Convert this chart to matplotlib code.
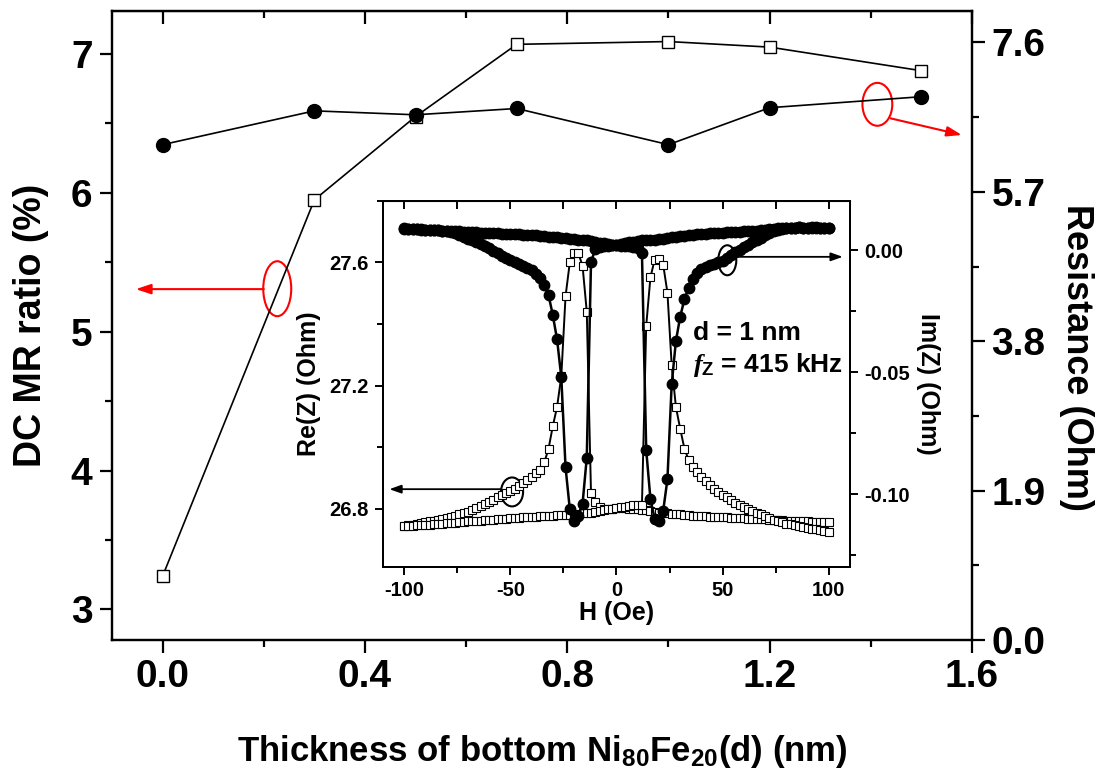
import matplotlib.pyplot as plt
from matplotlib.patches import Ellipse
from matplotlib.ticker import MultipleLocator, FormatStrFormatter

plt.rcParams['font.family'] = ['Liberation Sans', 'DejaVu Sans']
plt.rcParams['font.weight'] = 'bold'
plt.rcParams['axes.unicode_minus'] = False
plt.rcParams['mathtext.fontset'] = 'custom'
plt.rcParams['mathtext.rm'] = 'Liberation Sans:bold'
plt.rcParams['mathtext.bf'] = 'Liberation Sans:bold'
plt.rcParams['mathtext.it'] = 'Liberation Serif:italic'

# main panel: DC MR ratio and resistance vs bottom NiFe thickness
thickness = [0.0, 0.3, 0.5, 0.7, 1.0, 1.2, 1.5]
mr_ratio = [3.24, 5.95, 6.55, 7.07, 7.09, 7.05, 6.88]
resistance = [6.30, 6.73, 6.68, 6.76, 6.30, 6.77, 6.91]

# inset: GMI loop for d = 1 nm, field swept in 2 Oe steps
h_field = list(range(-100, 101, 2))

re_up = [26.744, 26.746, 26.748, 26.750, 26.753, 26.756, 26.758, 26.761, 26.764, 26.767,
         26.770, 26.774, 26.777, 26.781, 26.785, 26.790, 26.796, 26.802, 26.808, 26.815,
         26.822, 26.829, 26.836, 26.843, 26.850, 26.857, 26.864, 26.873, 26.883, 26.893,
         26.903, 26.914, 26.925, 26.950, 26.995, 27.068, 27.130, 27.230, 27.490, 27.600,
         27.630, 27.630, 27.590, 27.440, 26.850, 26.820, 26.805, 26.800, 26.798, 26.800,
         26.802, 26.803, 26.802, 26.800, 26.798, 26.797, 26.796, 26.794, 26.791, 26.789,
         26.787, 26.785, 26.784, 26.783, 26.782, 26.781, 26.780, 26.778, 26.777, 26.776,
         26.776, 26.775, 26.774, 26.773, 26.772, 26.772, 26.771, 26.770, 26.770, 26.769,
         26.768, 26.767, 26.767, 26.766, 26.766, 26.765, 26.764, 26.764, 26.763, 26.762,
         26.761, 26.760, 26.760, 26.759, 26.758, 26.758, 26.757, 26.757, 26.756, 26.756,
         26.755]

re_down = [26.742, 26.743, 26.744, 26.745, 26.746, 26.747, 26.748, 26.749, 26.750, 26.751,
           26.752, 26.753, 26.754, 26.755, 26.757, 26.758, 26.759, 26.760, 26.761, 26.762,
           26.763, 26.764, 26.765, 26.766, 26.767, 26.768, 26.769, 26.770, 26.771, 26.772,
           26.773, 26.774, 26.775, 26.776, 26.777, 26.777, 26.778, 26.778, 26.779, 26.780,
           26.781, 26.783, 26.784, 26.786, 26.787, 26.789, 26.791, 26.794, 26.797, 26.800,
           26.802, 26.804, 26.806, 26.808, 26.810, 26.811, 26.812, 27.394, 27.552, 27.609,
           27.611, 27.593, 27.502, 27.267, 27.130, 27.060, 26.995, 26.958, 26.935, 26.918,
           26.903, 26.888, 26.875, 26.864, 26.855, 26.845, 26.836, 26.827, 26.819, 26.811,
           26.804, 26.798, 26.792, 26.787, 26.781, 26.775, 26.769, 26.764, 26.760, 26.756,
           26.751, 26.749, 26.746, 26.744, 26.741, 26.738, 26.735, 26.732, 26.729, 26.727,
           26.724]

im_up = [0.0090, 0.0089, 0.0088, 0.0087, 0.0086, 0.0085, 0.0084, 0.0083, 0.0082, 0.0080,
         0.0078, 0.0075, 0.0070, 0.0063, 0.0055, 0.0047, 0.0040, 0.0033, 0.0025, 0.0017,
         0.0009, -0.0004, -0.0013, -0.0022, -0.0031, -0.0040, -0.0049, -0.0058, -0.0066, -0.0074,
         -0.0082, -0.0096, -0.0115, -0.0143, -0.0184, -0.0266, -0.0365, -0.0520, -0.0890, -0.1060,
         -0.1110, -0.1090, -0.1040, -0.0850, -0.0048, 0.0004, 0.0012, 0.0016, 0.0019, 0.0021,
         0.0023, 0.0026, 0.0029, 0.0032, 0.0035, 0.0038, 0.0040, 0.0041, 0.0042, 0.0044,
         0.0046, 0.0048, 0.0050, 0.0053, 0.0056, 0.0058, 0.0060, 0.0062, 0.0064, 0.0066,
         0.0067, 0.0068, 0.0069, 0.0070, 0.0071, 0.0072, 0.0073, 0.0074, 0.0075, 0.0076,
         0.0077, 0.0078, 0.0079, 0.0080, 0.0082, 0.0084, 0.0086, 0.0088, 0.0090, 0.0091,
         0.0092, 0.0093, 0.0093, 0.0094, 0.0093, 0.0093, 0.0094, 0.0093, 0.0093, 0.0093,
         0.0093]

im_down = [0.0089, 0.0088, 0.0087, 0.0086, 0.0085, 0.0084, 0.0083, 0.0082, 0.0081, 0.0080,
           0.0079, 0.0079, 0.0078, 0.0077, 0.0076, 0.0075, 0.0074, 0.0073, 0.0072, 0.0072,
           0.0071, 0.0070, 0.0069, 0.0068, 0.0068, 0.0067, 0.0066, 0.0065, 0.0064, 0.0063,
           0.0062, 0.0061, 0.0060, 0.0058, 0.0056, 0.0054, 0.0053, 0.0051, 0.0050, 0.0048,
           0.0046, 0.0044, 0.0042, 0.0040, 0.0038, 0.0035, 0.0031, 0.0028, 0.0025, 0.0022,
           0.0020, 0.0019, 0.0018, 0.0016, 0.0013, 0.0008, -0.0012, -0.0818, -0.1020, -0.1102,
           -0.1110, -0.1068, -0.0939, -0.0550, -0.0372, -0.0273, -0.0201, -0.0153, -0.0119, -0.0092,
           -0.0075, -0.0067, -0.0062, -0.0056, -0.0050, -0.0043, -0.0030, -0.0018, -0.0008, 0.0002,
           0.0012, 0.0022, 0.0032, 0.0042, 0.0052, 0.0062, 0.0070, 0.0077, 0.0083, 0.0088,
           0.0091, 0.0093, 0.0093, 0.0094, 0.0093, 0.0093, 0.0093, 0.0094, 0.0093, 0.0093,
           0.0093]


def style_axis(a, size, major_len, minor_len, width, pad=4):
    a.tick_params(which='major', length=major_len, width=width, labelsize=size, pad=pad)
    a.tick_params(which='minor', length=minor_len, width=width)
    for s in a.spines.values():
        s.set_linewidth(width)


fig = plt.figure(figsize=(11.06, 7.75), dpi=100)

# ---- main axes ----
ax = fig.add_axes([0.1013, 0.1742, 0.7775, 0.8116])
ax.plot(thickness, mr_ratio, '-s', color='black', mfc='white', mec='black',
        ms=8, mew=1.0, lw=1.2)
ax.set_xlim(-0.1, 1.6)
ax.set_ylim(2.78, 7.31)
ax.set_xticks([0.0, 0.4, 0.8, 1.2, 1.6])
ax.xaxis.set_minor_locator(MultipleLocator(0.2))
ax.xaxis.set_major_formatter(FormatStrFormatter('%.1f'))
ax.set_yticks([3, 4, 5, 6, 7])
ax.yaxis.set_minor_locator(MultipleLocator(0.5))
style_axis(ax, 28, 9, 5, 1.6, pad=5)
ax.set_xlabel('Thickness of bottom Ni$_{80}$Fe$_{20}$(d) (nm)', fontsize=25,
              fontweight='bold', labelpad=27)
ax.set_ylabel('DC MR ratio (%)', fontsize=27, fontweight='bold', labelpad=16)

top = ax.secondary_xaxis('top')
top.set_xticks([0.0, 0.4, 0.8, 1.2, 1.6])
top.xaxis.set_minor_locator(MultipleLocator(0.2))
top.tick_params(which='both', direction='in', labeltop=False)
top.tick_params(which='major', length=9, width=1.6)
top.tick_params(which='minor', length=5, width=1.6)

ax2 = ax.twinx()
ax2.plot(thickness, resistance, '-o', color='black', ms=10, lw=1.2)
ax2.set_ylim(0, 8.0)
ax2.set_yticks([0.0, 1.9, 3.8, 5.7, 7.6])
ax2.yaxis.set_minor_locator(MultipleLocator(0.95))
ax2.yaxis.set_major_formatter(FormatStrFormatter('%.1f'))
style_axis(ax2, 28, 9, 5, 1.6, pad=5)
ax2.set_ylabel('Resistance (Ohm)', fontsize=26, fontweight='bold', rotation=270)
ax2.yaxis.set_label_coords(1.142, 0.45)

# red markers telling which axis belongs to which curve
ax.add_patch(Ellipse((0.2266, 5.31), 0.0553, 0.396, fill=False, ec='red', lw=1.5))
ax.annotate('', xy=(-0.053, 5.307), xytext=(0.200, 5.307),
            arrowprops=dict(arrowstyle='-|>,head_length=0.9,head_width=0.3',
                            color='red', lw=1.5, shrinkA=0, shrinkB=0))
ax.add_patch(Ellipse((1.413, 6.638), 0.059, 0.309, fill=False, ec='red', lw=1.5))
ax.annotate('', xy=(1.580, 6.417), xytext=(1.439, 6.537),
            arrowprops=dict(arrowstyle='-|>,head_length=0.9,head_width=0.3',
                            color='red', lw=1.5, shrinkA=0, shrinkB=0))

# ---- inset ----
axi = fig.add_axes([0.3463, 0.2684, 0.4222, 0.4723])
axi.set_facecolor('white')
for re_branch in (re_up, re_down):
    axi.plot(h_field, re_branch, '-s', color='black', mfc='white', mec='black',
             ms=6, mew=0.8, lw=1.4)
axi.set_xlim(-110, 110)
axi.set_ylim(26.61, 27.80)
axi.set_xticks([-100, -50, 0, 50, 100])
axi.xaxis.set_minor_locator(MultipleLocator(25))
axi.set_yticks([26.8, 27.2, 27.6])
axi.yaxis.set_minor_locator(MultipleLocator(0.2))
axi.yaxis.set_major_formatter(FormatStrFormatter('%.1f'))
style_axis(axi, 14.5, 6, 4, 1.4)
axi.set_xlabel('H (Oe)', fontsize=18, fontweight='bold', labelpad=1)
axi.set_ylabel('Re(Z) (Ohm)', fontsize=18, fontweight='bold', labelpad=6)

itop = axi.secondary_xaxis('top')
itop.set_xticks([-100, -50, 0, 50, 100])
itop.xaxis.set_minor_locator(MultipleLocator(25))
itop.tick_params(which='both', direction='in', labeltop=False, length=6, width=1.4)

axi2 = axi.twinx()
for im_branch in (im_up, im_down):
    axi2.plot(h_field, im_branch, '-o', color='black', ms=7.5, lw=1.8)
axi2.set_ylim(-0.1298, 0.0202)
axi2.set_yticks([-0.10, -0.05, 0.0])
axi2.yaxis.set_minor_locator(MultipleLocator(0.025))
axi2.yaxis.set_major_formatter(FormatStrFormatter('%.2f'))
style_axis(axi2, 14.5, 6, 4, 1.4)
axi2.set_ylabel('Im(Z) (Ohm)', fontsize=18, fontweight='bold', rotation=270, labelpad=22)

axi.add_patch(Ellipse((-49.2, 26.854), 10.4, 0.094, fill=False, ec='black', lw=1.5))
axi.annotate('', xy=(-107, 26.863), xytext=(-54.4, 26.863),
             arrowprops=dict(arrowstyle='-|>,head_length=0.7,head_width=0.25',
                             color='black', lw=1.3, shrinkA=0, shrinkB=0))
axi2.add_patch(Ellipse((52.2, -0.0041), 8.5, 0.0123, fill=False, ec='black', lw=1.5))
axi2.annotate('', xy=(106.6, -0.0027), xytext=(54.7, -0.0027),
              arrowprops=dict(arrowstyle='-|>,head_length=0.7,head_width=0.25',
                              color='black', lw=1.3, shrinkA=0, shrinkB=0))

axi2.text(0.664, 0.639, 'd = 1 nm', transform=axi2.transAxes, fontsize=19,
          fontweight='bold', va='center', ha='left')
axi2.text(0.664, 0.552, r'$f_{\rm Z}$ = 415 kHz', transform=axi2.transAxes,
          fontsize=19, fontweight='bold', va='center', ha='left')

fig.savefig('out.png', dpi=100)
